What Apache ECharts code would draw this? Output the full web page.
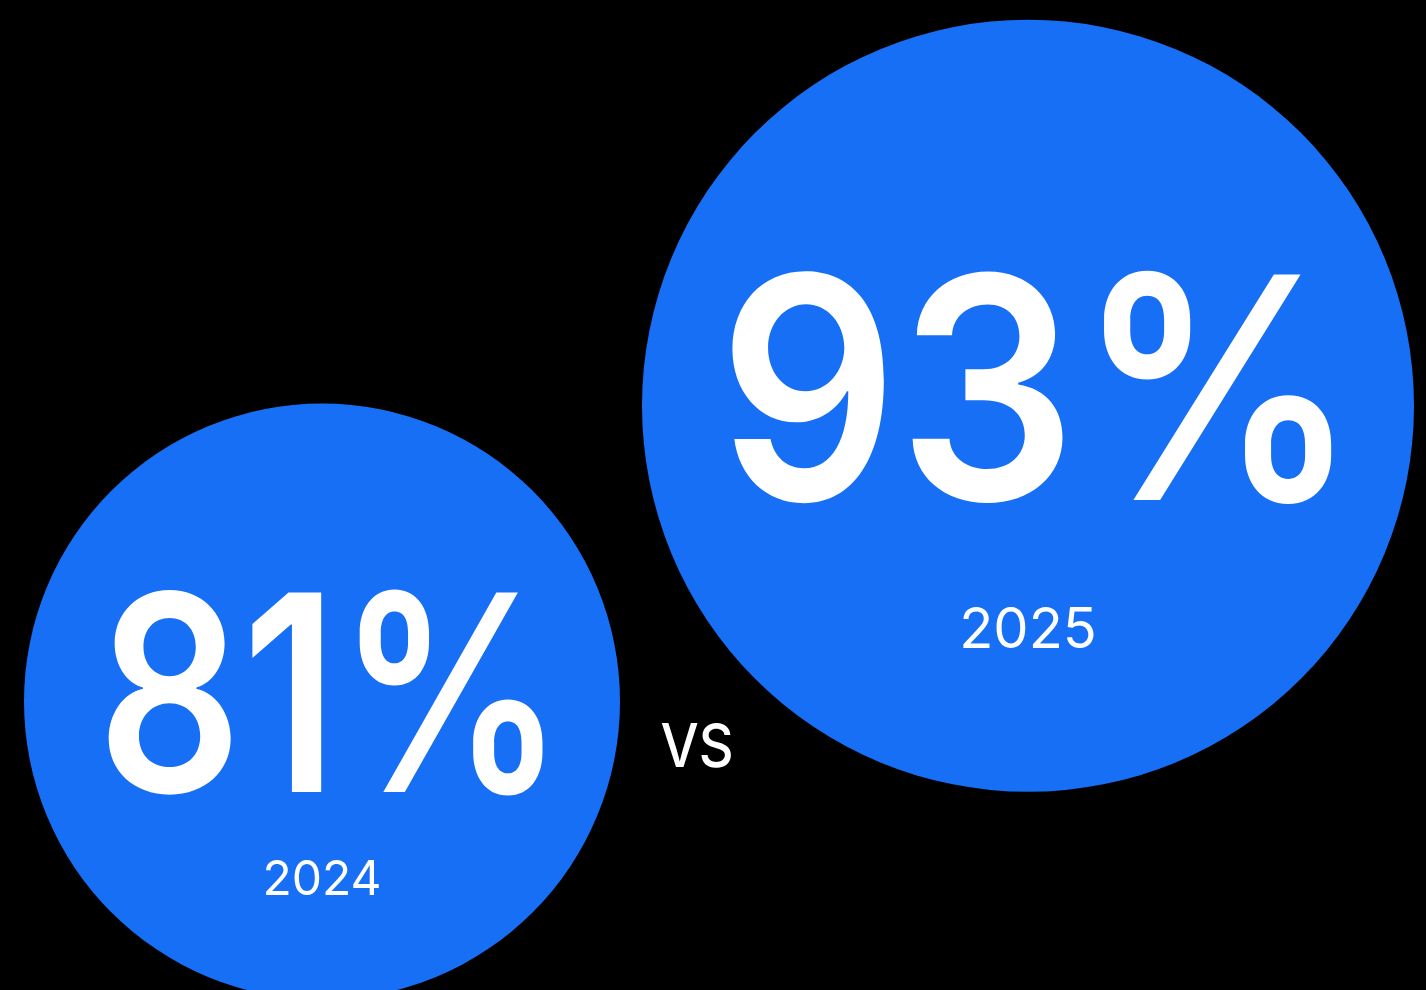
<!DOCTYPE html>
<html>
<head>
<meta charset="utf-8">
<style>
  html, body { margin: 0; padding: 0; background: #000; }
  #chart { width: 1426px; height: 990px; }
</style>
<script src="https://cdn.jsdelivr.net/npm/echarts@6/dist/echarts.min.js"></script>
</head>
<body>
<div id="chart"></div>
<script>
// Share of respondents, by survey year
const years = ['2024', '2025'];
const shares = [81, 93];
const separatorText = 'VS';

const BLUE = '#166ff5';
const FONT = 'Inter, "Noto Sans", sans-serif';

// Per-bubble presentation: diameter, headline type, label offsets
const bubbleSize = [596, 772];
const valueFont = [274, 310];
const valueScaleX = [0.825, 0.906];
const valueOffset = [[9, 8], [10.5, 1]];
const yearFont = [48, 56];
const yearOffset = [[0, 179], [0, 225]];

const chart = echarts.init(document.getElementById('chart'), null, { renderer: 'canvas' });

function renderBubble(params, api) {
  const i = params.dataIndex;
  const c = api.coord([api.value(0), api.value(1)]);
  const share = shares[i];
  return {
    type: 'group',
    children: [
      {
        type: 'circle',
        shape: { cx: c[0], cy: c[1], r: bubbleSize[i] / 2 },
        style: { fill: BLUE }
      },
      {
        type: 'text',
        x: c[0] + valueOffset[i][0],
        y: c[1] + valueOffset[i][1],
        scaleX: valueScaleX[i],
        style: {
          text: share + '%',
          fill: '#fff',
          font: '600 ' + valueFont[i] + 'px ' + FONT,
          align: 'center',
          verticalAlign: 'middle'
        }
      },
      {
        type: 'text',
        x: c[0] + yearOffset[i][0],
        y: c[1] + yearOffset[i][1],
        style: {
          text: years[i],
          fill: '#fff',
          font: '400 ' + yearFont[i] + 'px ' + FONT,
          align: 'center',
          verticalAlign: 'middle'
        }
      }
    ]
  };
}

chart.setOption({
  backgroundColor: '#000',
  animation: false,
  grid: { left: 322, right: 398, top: 0, bottom: 0 },
  xAxis: { type: 'category', data: years, boundaryGap: false, show: false },
  yAxis: { type: 'value', min: 69.3, max: 109.46, show: false },
  series: [{
    type: 'custom',
    renderItem: renderBubble,
    data: years.map((y, i) => [y, shares[i]]),
    encode: { x: 0, y: 1 },
    clip: false,
    silent: true
  }],
  graphic: [{
    type: 'text',
    x: 697,
    y: 749,
    scaleX: 0.9,
    style: {
      text: separatorText,
      fill: '#fff',
      font: '500 60px ' + FONT,
      align: 'center',
      verticalAlign: 'middle'
    }
  }]
});
</script>
</body>
</html>
